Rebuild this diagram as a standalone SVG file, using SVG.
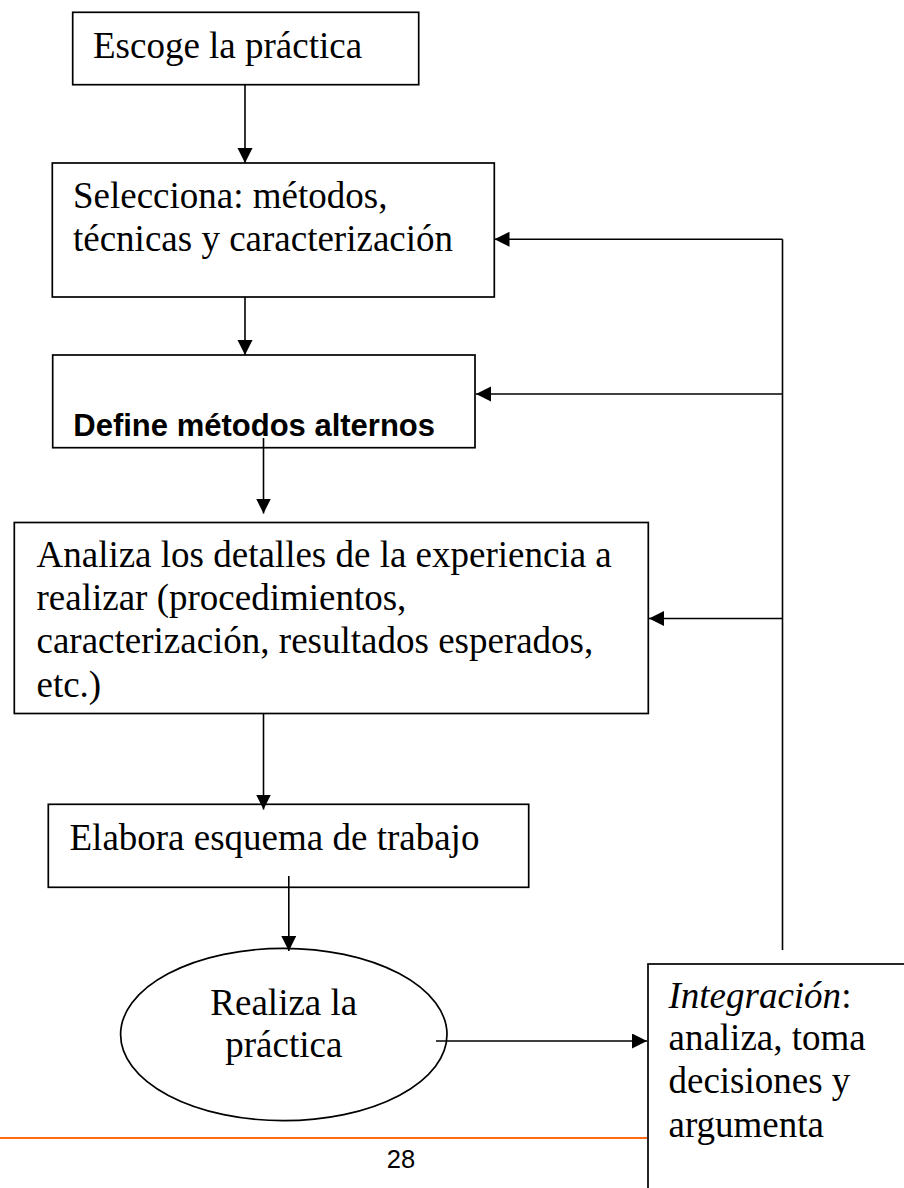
<svg xmlns="http://www.w3.org/2000/svg" width="904" height="1188" viewBox="0 0 904 1188">
<style>
.box{fill:#fff;stroke:#000;stroke-width:1.7}
.t{font-family:"Liberation Serif","Times New Roman",serif;font-size:37px;fill:#000}
.b{font-family:"Liberation Sans",Arial,sans-serif;font-size:31px;font-weight:bold;fill:#000}
.c{fill:none;stroke:#000;stroke-width:1.6}
</style>
<defs>
<marker id="ah" markerUnits="userSpaceOnUse" markerWidth="16" markerHeight="16" refX="15" refY="7.5" orient="auto">
<path d="M0,0 L15,7.5 L0,15 Z" fill="#000"/>
</marker>
</defs>
<rect width="904" height="1188" fill="#fff"/>
<g id="n1"><rect class="box" x="72.7" y="12.3" width="346" height="72.4"/><text class="t" x="93" y="58.3">Escoge la práctica</text></g>
<g id="n2"><rect class="box" x="52.3" y="163" width="442" height="134"/><text class="t" x="73" y="208.3">Selecciona: métodos,</text><text class="t" x="73" y="250.7">técnicas y caracterización</text></g>
<g id="n3"><rect class="box" x="52.7" y="355" width="422.3" height="92.7"/><text class="b" x="73.3" y="435.7">Define métodos alternos</text></g>
<g id="n4"><rect class="box" x="14.3" y="522.5" width="634" height="191"/><text class="t" x="36.5" y="566.7">Analiza los detalles de la experiencia a</text><text class="t" x="36.5" y="610">realizar (procedimientos,</text><text class="t" x="36.5" y="653.3">caracterización, resultados esperados,</text><text class="t" x="36.5" y="696.7">etc.)</text></g>
<g id="n5"><rect class="box" x="48.3" y="804.3" width="480.4" height="83"/><text class="t" x="69.5" y="850">Elabora esquema de trabajo</text></g>
<g id="n6"><ellipse class="box" cx="283.8" cy="1034.5" rx="163.2" ry="86.2"/><text class="t" x="283.8" y="1015" text-anchor="middle">Realiza la</text><text class="t" x="283.8" y="1056.7" text-anchor="middle">práctica</text></g>
<g id="n7"><rect class="box" x="648" y="964" width="300" height="300"/><text class="t" x="668.5" y="1008.3"><tspan font-style="italic">Integración</tspan>:</text><text class="t" x="668.5" y="1050">analiza, toma</text><text class="t" x="668.5" y="1093.3">decisiones y</text><text class="t" x="668.5" y="1136.7">argumenta</text></g>
<g id="connectors">
<line class="c" x1="245" y1="85" x2="245" y2="163" marker-end="url(#ah)"/>
<line class="c" x1="245" y1="297" x2="245" y2="355" marker-end="url(#ah)"/>
<line class="c" x1="263.5" y1="438" x2="263.5" y2="513.5" marker-end="url(#ah)"/>
<line class="c" x1="263.5" y1="714" x2="263.5" y2="809.5" marker-end="url(#ah)"/>
<line class="c" x1="288.8" y1="876" x2="288.8" y2="951" marker-end="url(#ah)"/>
<line class="c" x1="436" y1="1041" x2="647" y2="1041" marker-end="url(#ah)"/>
<line class="c" x1="782.5" y1="950" x2="782.5" y2="239.3"/>
<line class="c" x1="782.5" y1="239.3" x2="494.5" y2="239.3" marker-end="url(#ah)"/>
<line class="c" x1="782.5" y1="394" x2="476" y2="394" marker-end="url(#ah)"/>
<line class="c" x1="782.5" y1="618.5" x2="649" y2="618.5" marker-end="url(#ah)"/>
</g>
<line x1="0" y1="1138" x2="647" y2="1138" stroke="#FF6A13" stroke-width="2.2"/>
<text x="401" y="1167.7" text-anchor="middle" font-family="Liberation Sans, Arial, sans-serif" font-size="25.5" fill="#000">28</text>
</svg>
